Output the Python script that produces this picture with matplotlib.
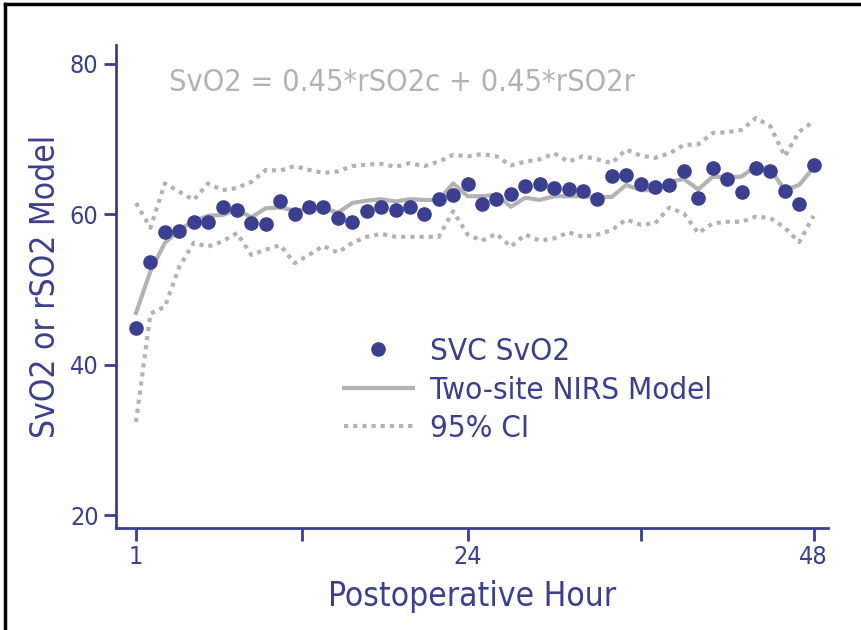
import matplotlib
matplotlib.use('Agg')
import matplotlib.pyplot as plt
from matplotlib.lines import Line2D

hours = list(range(1, 49))

svc_svo2 = [44.9, 53.6, 57.6, 57.8, 59.0, 59.0, 60.9, 60.6, 58.8, 58.7,
            61.8, 60.1, 60.9, 60.9, 59.5, 59.0, 60.5, 61.0, 60.6, 60.9,
            60.1, 62.0, 62.6, 64.0, 61.4, 62.0, 62.7, 63.7, 64.0, 63.5,
            63.3, 63.1, 62.0, 65.1, 65.2, 64.0, 63.6, 63.9, 65.8, 62.2,
            66.1, 64.7, 62.9, 66.2, 65.8, 63.1, 61.4, 66.6]

nirs_model = [46.9, 52.4, 56.2, 57.9, 59.1, 59.8, 59.9, 60.6, 59.6, 60.8,
              60.9, 60.5, 60.7, 60.8, 60.2, 61.5, 61.8, 62.0, 61.7, 62.0,
              61.9, 61.9, 64.1, 62.4, 62.4, 62.6, 61.0, 62.2, 61.9, 62.4,
              62.4, 62.4, 62.3, 62.3, 63.9, 63.2, 63.2, 64.3, 64.7, 63.3,
              65.0, 64.9, 65.0, 66.4, 66.0, 63.2, 63.9, 66.2]

ci_upper = [61.5, 58.2, 64.1, 63.0, 61.9, 64.1, 63.2, 63.5, 64.3, 65.9,
            65.8, 66.4, 65.9, 65.5, 65.7, 66.4, 66.6, 66.7, 66.3, 66.8,
            66.4, 67.0, 67.9, 67.7, 68.0, 67.7, 66.5, 67.0, 67.3, 68.1,
            67.0, 67.7, 67.3, 66.8, 68.6, 67.8, 67.5, 68.1, 69.2, 69.3,
            70.8, 70.9, 71.2, 72.8, 71.7, 67.7, 71.0, 72.3]

ci_lower = [32.4, 46.8, 47.7, 53.0, 56.2, 55.7, 56.4, 57.5, 54.6, 55.3,
            55.9, 53.5, 54.6, 55.8, 54.9, 56.2, 57.0, 57.4, 57.0, 57.0,
            57.0, 57.0, 60.4, 57.3, 56.5, 57.4, 55.7, 57.3, 56.5, 56.8,
            57.6, 57.0, 57.3, 57.9, 59.3, 58.6, 58.8, 60.9, 60.1, 57.5,
            58.8, 59.0, 59.0, 59.7, 59.5, 58.2, 56.3, 59.8]

navy = '#3b3f8f'
gray = '#b3b3b3'

plt.rcParams['font.family'] = 'DejaVu Sans'
plt.rcParams['font.stretch'] = 'condensed'

fig = plt.figure(figsize=(8.61, 6.3), dpi=100)
ax = fig.add_axes([0.1347, 0.1619, 0.827, 0.7667])

ci_line, = ax.plot(hours, ci_upper, color=gray, lw=3, linestyle=(0, (1, 1.2)))
ax.plot(hours, ci_lower, color=gray, lw=3, linestyle=(0, (1, 1.2)))
model_line, = ax.plot(hours, nirs_model, color=gray, lw=3)
dots, = ax.plot(hours, svc_svo2, 'o', color=navy, ms=9.5)

ax.set_xlim(-0.39, 49.0)
ax.set_ylim(18.3, 82.5)

ax.set_xticks([1, 12.5, 24, 36, 48])
ax.set_xticklabels(['1', '', '24', '', '48'])
ax.set_yticks([20, 40, 60, 80])

for s in ['top', 'right']:
    ax.spines[s].set_visible(False)
for s in ['left', 'bottom']:
    ax.spines[s].set_color(navy)
    ax.spines[s].set_linewidth(2)

ax.tick_params(colors=navy, width=2, length=9, labelsize=18, direction='out')

ax.set_xlabel('Postoperative Hour', fontsize=24, color=navy, labelpad=8)
ax.set_ylabel('SvO2 or rSO2 Model', fontsize=24, color=navy, labelpad=6)

ax.text(0.074, 0.952, 'SvO2 = 0.45*rSO2c + 0.45*rSO2r', transform=ax.transAxes,
        fontsize=22, color=gray, va='top')

ax.legend([dots, model_line, ci_line], ['SVC SvO2', 'Two-site NIRS Model', '95% CI'],
          loc='upper left', bbox_to_anchor=(0.32, 0.395), frameon=False,
          fontsize=22.5, labelcolor=navy, handlelength=2.2, handletextpad=0.55,
          labelspacing=0.3, borderpad=0, borderaxespad=0)

# frame of the screenshot
fig.add_artist(Line2D([0.006, 1.0], [0.994, 0.994], color='black', lw=2.5))
fig.add_artist(Line2D([0.006, 0.006], [0.0, 0.994], color='black', lw=2.5))

fig.savefig('out.png', dpi=100)
